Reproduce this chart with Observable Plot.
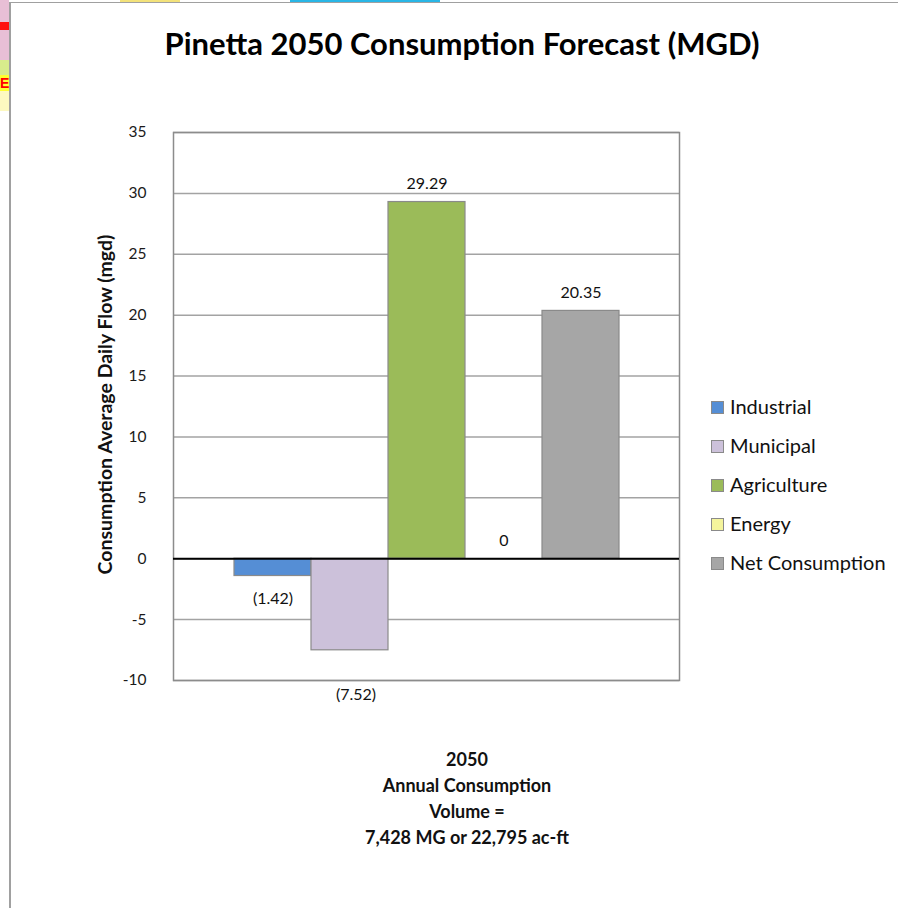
<!DOCTYPE html>
<html>
<head>
<meta charset="utf-8">
<script src="https://cdn.jsdelivr.net/npm/d3@7"></script>
<script src="https://cdn.jsdelivr.net/npm/@observablehq/plot@0.6"></script>
<style>
  html, body { margin:0; padding:0; background:#fff; }
  body { width:898px; height:908px; position:relative; overflow:hidden; font-family: Lato, "Open Sans", sans-serif; }
  #frame { position:absolute; left:9px; top:2px; width:900px; height:920px; border-left:2px solid #a0a0a0; border-top:1px solid #a0a0a0; background:#fff; }
  #title { position:absolute; left:0; top:24px; width:924px; text-align:center; font-weight:bold; font-size:31px; color:#000; }
  #chart { position:absolute; left:0; top:100px; }
  #legend { position:absolute; left:711px; top:394px; }
  .row { height:39px; display:flex; align-items:flex-start; font-size:20px; color:#111; }
  .sw { width:11px; height:11px; border:1px solid #8a8a8a; margin-top:7px; margin-right:6px; }
  #caption { position:absolute; left:217px; width:500px; top:746px; text-align:center; font-weight:bold; font-size:18px; line-height:26px; color:#111; }
  .art { position:absolute; }
</style>
</head>
<body>
<div class="art" style="left:0;top:0;width:9px;height:60px;background:#e8bfd6"></div>
<div class="art" style="left:0;top:22px;width:9px;height:8px;background:#ff1010"></div>
<div class="art" style="left:0;top:60px;width:9px;height:20px;background:#d8ec8c"></div>
<div class="art" style="left:0;top:75px;width:9px;height:16px;background:#ffff30;color:#f00;font:bold 14px 'Liberation Sans';line-height:16px;overflow:hidden">E</div>
<div class="art" style="left:0;top:91px;width:9px;height:20px;background:#fdf9c0"></div>
<div class="art" style="left:290px;top:0;width:150px;height:2px;background:#29b6e6"></div>
<div class="art" style="left:120px;top:0;width:60px;height:2px;background:#f3e27a"></div>
<div id="frame"></div>
<div id="title"></div>
<div id="chart"></div>
<div id="legend"></div>
<div id="caption"></div>
<script>
const categories = ["Industrial", "Municipal", "Agriculture", "Energy", "Net Consumption"];
const values = [-1.42, -7.52, 29.29, 0, 20.35];
const valueLabels = ["(1.42)", "(7.52)", "29.29", "0", "20.35"];
const colors = ["#558ed5", "#ccc1da", "#9bbb59", "#f4f49c", "#a6a6a6"];
const yTicks = [-10, -5, 0, 5, 10, 15, 20, 25, 30, 35];
const titleText = "Pinetta 2050 Consumption Forecast (MGD)";
const yLabel = "Consumption Average Daily Flow (mgd)";
const captionLines = ["2050", "Annual Consumption", "Volume =", "7,428 MG or 22,795 ac-ft"];

const data = categories.map((c, i) => ({category: c, value: values[i], label: valueLabels[i]}));

const chart = Plot.plot({
  width: 898,
  height: 620,
  marginTop: 32,
  marginBottom: 40,
  marginLeft: 173,
  marginRight: 219,
  style: {fontFamily: "Lato, 'Open Sans', sans-serif", fontSize: "15px", color: "#1a1a1a", background: "transparent", overflow: "visible"},
  x: {domain: categories, paddingInner: 0, paddingOuter: 0.744, axis: null},
  y: {domain: [-10, 35], ticks: yTicks},
  color: {domain: categories, range: colors},
  marks: [
    Plot.gridY(yTicks, {stroke: "#a3a3a3", strokeOpacity: 1, strokeWidth: 1.5}),
    Plot.frame({stroke: "#8c8c8c", strokeWidth: 1.5}),
    Plot.barY(data, {x: "category", y: "value", fill: "category", stroke: "#8a8a8a", strokeWidth: 1.2}),
    Plot.ruleY([0], {stroke: "#000", strokeWidth: 2}),
    Plot.axisY(yTicks, {tickSize: 0, tickPadding: 27, fontSize: 15.5, fill: "#1a1a1a", tickFormat: d => String(d), label: null}),
    Plot.text([yLabel], {frameAnchor: "left", textAnchor: "middle", dx: -68, dy: -2, rotate: -90, text: d => d, fontWeight: "bold", fontSize: 19.5, fill: "#111"}),
    Plot.text(data.filter(d => d.value >= 0), {x: "category", y: "value", text: "label", dy: -18, fontSize: 16, fill: "#111"}),
    Plot.text(data.filter(d => d.category === "Industrial"), {x: "category", y: "value", text: "label", dy: 23, fontSize: 16, fill: "#111"}),
    Plot.text(data.filter(d => d.category === "Municipal"), {x: "category", y: "value", text: "label", dy: 45, dx: 6, fontSize: 16, fill: "#111"})
  ]
});
document.getElementById("chart").appendChild(chart);
document.getElementById("title").textContent = titleText;

const legend = document.getElementById("legend");
categories.forEach((c, i) => {
  const row = document.createElement("div");
  row.className = "row";
  const sw = document.createElement("div");
  sw.className = "sw";
  sw.style.background = colors[i];
  const t = document.createElement("span");
  t.textContent = c;
  row.appendChild(sw); row.appendChild(t);
  legend.appendChild(row);
});
const cap = document.getElementById("caption");
captionLines.forEach(l => { const d = document.createElement("div"); d.textContent = l; cap.appendChild(d); });
</script>
</body>
</html>
